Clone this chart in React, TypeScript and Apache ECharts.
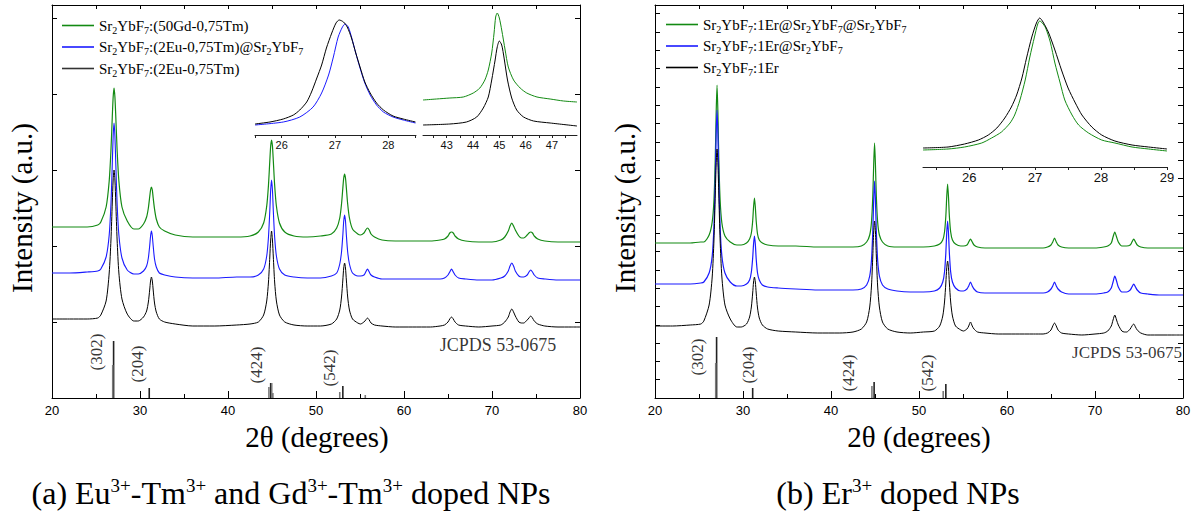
import React, { useEffect, useRef } from 'react';
import * as echarts from 'echarts';

// ---------- data ----------
const twoTheta = [
  20, 22, 24, 25.2, 25.55, 26.15, 26.5, 26.7, 26.85, 26.95,
  27.05, 27.15, 27.25, 27.4, 27.6, 27.95, 28.55, 29.3, 29.8, 30.4,
  30.75, 30.95, 31.1, 31.2, 31.3, 31.4, 31.5, 31.65, 31.85, 32.2,
  32.8, 34, 36, 38.5, 41, 42.5, 43.45, 44.05, 44.4, 44.6,
  44.75, 44.85, 44.95, 45.05, 45.15, 45.3, 45.5, 45.85, 46.45, 47.5,
  49, 50.5, 51.75, 52.35, 52.7, 52.9, 53.05, 53.15, 53.25, 53.35,
  53.45, 53.6, 53.8, 54.15, 54.75, 55.05, 55.45, 55.65, 55.85, 56.05,
  56.25, 56.65, 57.5, 59, 61, 63, 64.1, 64.6, 65.0, 65.2,
  65.4, 65.6, 65.8, 66.2, 67, 68.5, 70, 71, 71.45, 71.85,
  72.05, 72.25, 72.45, 72.65, 73.05, 73.35, 73.6, 74.0, 74.2, 74.4,
  74.6, 74.8, 75.2, 76, 77.5, 79, 80,
];

// panel (a)
const gdTm = [
  171, 171, 171, 173, 176, 191, 217, 248, 281, 301,
  310, 301, 281, 248, 217, 191, 177, 169, 169, 174,
  181, 190, 201, 208, 211, 208, 200, 189, 179, 171,
  167, 163, 161, 161, 161, 162, 166, 175, 192, 213,
  237, 252, 258, 252, 237, 213, 192, 175, 166, 162,
  161, 162, 164, 170, 180, 194, 210, 220, 224, 220,
  210, 194, 180, 169, 164, 163, 165, 168, 170, 168,
  164, 161, 158, 157, 157, 157, 158, 159, 162, 165,
  166, 165, 162, 159, 157, 156, 156, 158, 161, 167,
  172, 175, 172, 168, 162, 160, 160, 163, 165, 166,
  165, 162, 159, 157, 156, 156, 156,
];
const euTmCoreShell = [
  125, 125, 126, 127, 129, 141, 163, 194, 234, 262,
  275, 262, 234, 194, 163, 140, 128, 124, 124, 127,
  132, 140, 152, 162, 167, 162, 152, 139, 131, 125,
  123, 121, 120, 120, 121, 121, 123, 129, 142, 161,
  187, 208, 218, 208, 187, 161, 142, 129, 123, 121,
  120, 120, 122, 125, 134, 146, 163, 177, 183, 177,
  163, 146, 134, 125, 122, 122, 123, 126, 129, 126,
  123, 121, 119, 119, 119, 119, 119, 120, 123, 126,
  129, 126, 123, 120, 119, 118, 118, 120, 122, 127,
  132, 135, 132, 127, 122, 121, 121, 123, 126, 128,
  126, 123, 120, 119, 118, 118, 118,
];
const euTm = [
  79, 79, 79, 80, 83, 97, 125, 158, 195, 218,
  228, 218, 195, 158, 125, 99, 84, 77, 77, 81,
  87, 96, 108, 117, 121, 117, 108, 95, 86, 79,
  76, 74, 72, 72, 73, 74, 76, 83, 97, 116,
  141, 158, 167, 158, 141, 116, 97, 83, 76, 73,
  72, 72, 74, 79, 88, 101, 118, 130, 135, 130,
  118, 101, 88, 79, 75, 74, 76, 78, 80, 78,
  75, 73, 72, 71, 71, 71, 72, 73, 76, 79,
  81, 79, 76, 73, 72, 71, 72, 73, 76, 81,
  86, 89, 86, 82, 76, 75, 75, 78, 80, 82,
  80, 77, 74, 72, 71, 71, 71,
];

// panel (b)
const erTriple = [
  155, 155, 155, 156, 156, 163, 176, 198, 240, 285,
  313, 285, 240, 198, 175, 162, 156, 153, 153, 155,
  159, 165, 177, 191, 200, 191, 177, 164, 158, 155,
  153, 152, 152, 151, 151, 151, 152, 156, 163, 176,
  202, 233, 255, 233, 202, 176, 163, 156, 152, 151,
  151, 151, 152, 154, 158, 166, 182, 201, 214, 201,
  182, 166, 158, 154, 152, 152, 153, 156, 159, 156,
  153, 151, 150, 150, 150, 150, 150, 151, 153, 156,
  160, 156, 153, 151, 150, 150, 150, 151, 152, 155,
  161, 166, 161, 156, 152, 152, 152, 153, 156, 159,
  156, 153, 151, 150, 150, 150, 150,
];
const erDouble = [
  114, 114, 114, 115, 116, 125, 142, 172, 219, 264,
  288, 264, 219, 171, 142, 125, 116, 112, 112, 114,
  118, 126, 140, 154, 162, 154, 139, 125, 118, 113,
  111, 110, 109, 108, 108, 108, 109, 113, 122, 138,
  167, 198, 217, 198, 167, 138, 122, 113, 109, 107,
  106, 106, 107, 110, 116, 126, 145, 165, 177, 165,
  145, 126, 116, 110, 107, 107, 109, 112, 116, 112,
  109, 106, 105, 105, 105, 105, 105, 106, 109, 112,
  116, 112, 109, 106, 104, 104, 104, 105, 106, 110,
  116, 122, 117, 111, 106, 106, 106, 108, 111, 114,
  111, 108, 105, 104, 103, 103, 103,
];
const erSingle = [
  72, 72, 73, 74, 77, 93, 121, 158, 204, 234,
  249, 234, 204, 158, 121, 93, 79, 71, 71, 74,
  81, 91, 105, 116, 121, 116, 105, 90, 80, 73,
  69, 67, 66, 65, 65, 66, 69, 76, 91, 112,
  142, 166, 177, 166, 142, 112, 91, 76, 69, 66,
  65, 66, 67, 72, 82, 96, 115, 130, 137, 130,
  115, 96, 82, 72, 68, 67, 69, 72, 76, 72,
  69, 66, 65, 64, 64, 64, 64, 65, 68, 72,
  75, 72, 68, 65, 64, 63, 64, 65, 67, 72,
  78, 83, 78, 73, 67, 66, 66, 69, 72, 74,
  71, 68, 65, 63, 63, 63, 63,
];

// insets
const inset27Eu = [[25.5, 11], [25.78, 13], [26.03, 16], [26.22, 20], [26.34, 25], [26.47, 33], [26.56, 43], [26.66, 57], [26.75, 70], [26.84, 87], [26.94, 102], [27.02, 112], [27.08, 115], [27.16, 113], [27.23, 108], [27.31, 97], [27.39, 82], [27.47, 68], [27.56, 53], [27.66, 42], [27.78, 32], [27.91, 25], [28.09, 19], [28.28, 16], [28.51, 13]];
const inset27EuCore = [[25.5, 10], [26.03, 13], [26.34, 18], [26.59, 28], [26.75, 42], [26.88, 60], [26.97, 78], [27.06, 98], [27.14, 108], [27.19, 111], [27.25, 108], [27.31, 98], [27.39, 82], [27.47, 67], [27.56, 52], [27.66, 40], [27.78, 30], [27.91, 23], [28.09, 18], [28.28, 15], [28.51, 12]];
const inset45Gd = [[42.1, 35], [42.61, 36], [43.12, 37], [43.63, 38], [44.01, 42], [44.26, 47], [44.45, 55], [44.58, 65], [44.71, 82], [44.8, 102], [44.86, 118], [44.92, 122], [45.0, 117], [45.09, 105], [45.22, 85], [45.34, 68], [45.54, 55], [45.79, 47], [46.04, 42], [46.43, 38], [46.93, 36], [47.44, 34], [47.95, 33]];
const inset45Eu = [[42.1, 10], [43.12, 11], [43.75, 13], [44.14, 18], [44.39, 27], [44.58, 38], [44.71, 55], [44.84, 75], [44.92, 88], [45.0, 94], [45.09, 90], [45.18, 77], [45.31, 55], [45.47, 37], [45.66, 25], [45.92, 18], [46.3, 14], [46.93, 12], [47.95, 9]];
const insetErSingle = [[25.3, 19], [25.68, 20], [25.93, 23], [26.14, 27], [26.29, 32], [26.42, 39], [26.54, 49], [26.64, 60], [26.72, 72], [26.8, 89], [26.87, 109], [26.95, 130], [27.02, 144], [27.07, 149], [27.12, 145], [27.2, 135], [27.3, 117], [27.4, 97], [27.5, 79], [27.61, 64], [27.71, 52], [27.86, 40], [28.01, 32], [28.21, 26], [28.47, 22], [28.72, 20], [29.0, 18]];
const insetErTriple = [[25.3, 17], [25.68, 18], [25.93, 20], [26.19, 24], [26.34, 29], [26.49, 35], [26.62, 44], [26.69, 52], [26.77, 67], [26.85, 87], [26.92, 110], [26.99, 130], [27.04, 143], [27.07, 146], [27.11, 144], [27.16, 139], [27.23, 125], [27.3, 104], [27.38, 84], [27.45, 67], [27.56, 52], [27.66, 42], [27.81, 34], [28.01, 27], [28.21, 24], [28.47, 20], [28.72, 18], [29.0, 16]];

// JCPDS 53-0675 reference sticks [2theta, height]
const jcpdsMainA = [[27.0, 57], [31.05, 10], [44.85, 15], [53.05, 12]];
const jcpdsMinorA = [[26.9, 33], [44.65, 11], [44.97, 15], [45.1, 5], [52.7, 6], [55.6, 3]];
const jcpdsMainB = [[27.0, 61], [31.1, 10], [44.9, 16], [53.05, 14]];
const jcpdsMinorB = [[26.9, 35], [44.65, 12], [52.75, 7]];

const hklLabels = ['(302)', '(204)', '(424)', '(542)'];
const hklPosA = [[25.08, 46], [29.72, 34], [43.2, 33], [51.5, 30]];
const hklPosB = [[24.8, 41], [30.58, 33], [41.99, 25], [50.98, 25]];
const jcpdsPosA = [77.3, 53];
const jcpdsPosB = [79.9, 46];

const namesA = ['Sr2YbF7:(50Gd-0,75Tm)', 'Sr2YbF7:(2Eu-0,75Tm)@Sr2YbF7', 'Sr2YbF7:(2Eu-0,75Tm)'];
const namesB = ['Sr2YbF7:1Er@Sr2YbF7@Sr2YbF7', 'Sr2YbF7:1Er@Sr2YbF7', 'Sr2YbF7:1Er'];

// ---------- styling ----------
const SERIF = 'Liberation Serif';
const SANS = 'Liberation Sans';
const GREEN = '#138a13';
const BLUE = '#1a1aff';
const BLACK = '#000000';

const zip = (ys: number[]) => twoTheta.map((x, i) => [x, ys[i]]);
const subFmt = (n: string) => n.replace(/Sr2YbF7/g, 'Sr{s|2}YbF{s|7}');

const axLine = { show: true, onZero: false, lineStyle: { color: '#000', width: 1 } };

function mainX(gi: number) {
  return {
    type: 'value', gridIndex: gi, min: 20, max: 80, interval: 10, position: 'bottom',
    axisLine: axLine,
    axisTick: { show: true, inside: true, length: 7, lineStyle: { color: '#000' } },
    minorTick: { show: true, splitNumber: 2, length: 4, lineStyle: { color: '#000' } },
    axisLabel: { show: true, margin: 6, fontFamily: SANS, fontSize: 13, color: '#000' },
    splitLine: { show: false }, minorSplitLine: { show: false },
  };
}
function topX(gi: number) {
  return {
    type: 'value', gridIndex: gi, min: 20, max: 80, interval: 5, position: 'top',
    axisLine: axLine,
    axisTick: { show: true, inside: true, length: 4, lineStyle: { color: '#000' } },
    axisLabel: { show: false }, splitLine: { show: false },
  };
}
function mainY(gi: number, pos: string, interval: number) {
  return {
    type: 'value', gridIndex: gi, min: 0, max: 393, interval, position: pos,
    axisLine: axLine,
    axisTick: { show: true, inside: true, length: 5, lineStyle: { color: '#000' } },
    axisLabel: { show: false }, splitLine: { show: false },
  };
}
function insetX(gi: number, min: number, max: number, ticks: number[], labels: number[], fs: number) {
  return {
    type: 'value', gridIndex: gi, min, max, position: 'bottom',
    axisLine: { show: true, onZero: false, lineStyle: { color: '#222', width: 1 } },
    axisTick: { show: true, inside: false, length: 3, customValues: ticks, lineStyle: { color: '#222' } },
    axisLabel: { show: true, customValues: labels, margin: 4, fontFamily: SANS, fontSize: fs, color: '#111' },
    splitLine: { show: false },
  };
}
function insetY(gi: number, max: number) {
  return { type: 'value', gridIndex: gi, min: 0, max, show: false };
}
function line(name: string, data: any, xi: number, yi: number, color: string, width = 1) {
  return {
    type: 'line', name, data, xAxisIndex: xi, yAxisIndex: yi, showSymbol: false, symbol: 'none',
    smooth: 0.25, lineStyle: { color, width }, itemStyle: { color }, silent: true,
  };
}
function sticks(name: string, data: number[][], xi: number, yi: number, color: string) {
  return {
    type: 'bar', name, data, xAxisIndex: xi, yAxisIndex: yi, barWidth: 1.6, barGap: '-100%',
    itemStyle: { color }, silent: true,
  };
}
function hkl(name: string, pos: number[][], xi: number, yi: number) {
  return {
    type: 'scatter', name, xAxisIndex: xi, yAxisIndex: yi, symbolSize: 0, silent: true,
    data: pos.map((p, i) => ({ value: p, name: hklLabels[i] })),
    label: { show: true, position: 'inside', rotate: 90, formatter: '{b}', fontFamily: SERIF, fontSize: 17, color: '#000' },
  };
}
function jcpds(name: string, pos: number[], xi: number, yi: number, fs: number) {
  return {
    type: 'scatter', name, xAxisIndex: xi, yAxisIndex: yi, symbolSize: 0, silent: true,
    data: [{ value: pos, name: 'JCPDS 53-0675' }],
    label: { show: true, position: 'inside', align: 'right', formatter: '{b}', fontFamily: SERIF, fontSize: fs, color: '#000' },
  };
}
function legendAt(left: number, top: number, names: string[], colors: string[]) {
  return {
    left, top, orient: 'vertical', itemWidth: 32, itemHeight: 1.6, itemGap: 4, selectedMode: false,
    data: names.map((n, i) => ({ name: n, icon: 'rect', itemStyle: { color: colors[i] } })),
    formatter: subFmt,
    textStyle: {
      fontFamily: SERIF, fontSize: 15, color: '#000', padding: [0, 0, 0, 0],
      rich: { s: { fontFamily: SERIF, fontSize: 10, color: '#000', padding: [10, 0, 0, 0] } },
    },
  };
}

const serifText = (text: string, x: number, y: number, rot = 0) => ({
  type: 'text', x, y, rotation: rot,
  style: { text, fontFamily: SERIF, fontSize: 29, fill: '#000', align: 'center', verticalAlign: 'middle' },
});
const caption = (text: string, x: number) => ({
  type: 'text', x, y: 493,
  style: {
    text, fontFamily: SERIF, fontSize: 32, fill: '#000', align: 'center', verticalAlign: 'middle',
    rich: { p: { fontFamily: SERIF, fontSize: 19, padding: [0, 0, 16, 0] } },
  },
});

const option: any = {
  animation: false,
  backgroundColor: '#fff',
  textStyle: { fontFamily: SERIF },
  grid: [
    { left: 52, top: 5, width: 528, height: 393, outerBoundsMode: 'none' },
    { left: 655, top: 5, width: 528, height: 393, outerBoundsMode: 'none' },
    { left: 255, top: 10, width: 161, height: 125, outerBoundsMode: 'none' },
    { left: 423, top: 10, width: 154, height: 125, outerBoundsMode: 'none' },
    { left: 923, top: 10, width: 244, height: 157, outerBoundsMode: 'none' },
  ],
  xAxis: [
    mainX(0), topX(0), mainX(1), topX(1),
    insetX(2, 25.5, 28.52, [25.5, 26, 26.5, 27, 27.5, 28, 28.5], [26, 27, 28], 11),
    insetX(3, 42.1, 47.95, [42.5, 43, 43.5, 44, 44.5, 45, 45.5, 46, 46.5, 47, 47.5], [43, 44, 45, 46, 47], 11),
    insetX(4, 25.3, 29, [25.5, 26, 26.5, 27, 27.5, 28, 28.5, 29], [26, 27, 28, 29], 13),
  ],
  yAxis: [
    mainY(0, 'left', 76), mainY(0, 'right', 76), mainY(1, 'left', 18.3), mainY(1, 'right', 18.3),
    insetY(2, 125), insetY(3, 125), insetY(4, 157),
  ],
  legend: [
    legendAt(57, 13, namesA, [GREEN, BLUE, '#333']),
    legendAt(661, 12, namesB, [GREEN, BLUE, BLACK]),
  ],
  series: [
    line(namesA[0], zip(gdTm), 0, 0, GREEN, 1.2),
    line(namesA[1], zip(euTmCoreShell), 0, 0, BLUE, 1.1),
    line(namesA[2], zip(euTm), 0, 0, BLACK, 1),
    line(namesB[0], zip(erTriple), 2, 2, GREEN, 1.2),
    line(namesB[1], zip(erDouble), 2, 2, BLUE, 1.2),
    line(namesB[2], zip(erSingle), 2, 2, BLACK, 1),
    sticks('ref a', jcpdsMainA, 0, 0, '#222'),
    sticks('ref a minor', jcpdsMinorA, 0, 0, '#7a7a7a'),
    sticks('ref b', jcpdsMainB, 2, 2, '#222'),
    sticks('ref b minor', jcpdsMinorB, 2, 2, '#7a7a7a'),
    hkl('hkl a', hklPosA, 0, 0),
    hkl('hkl b', hklPosB, 2, 2),
    jcpds('jcpds a', jcpdsPosA, 0, 0, 18),
    jcpds('jcpds b', jcpdsPosB, 2, 2, 17),
    line('inset a 27 core', inset27EuCore, 4, 4, BLUE, 1),
    line('inset a 27', inset27Eu, 4, 4, BLACK, 1),
    line('inset a 45 Gd', inset45Gd, 5, 5, GREEN, 1),
    line('inset a 45', inset45Eu, 5, 5, BLACK, 1),
    line('inset b 27 triple', insetErTriple, 6, 6, GREEN, 1),
    line('inset b 27', insetErSingle, 6, 6, BLACK, 1),
  ],
  graphic: [
    serifText('Intensity (a.u.)', 22, 208, Math.PI / 2),
    serifText('Intensity (a.u.)', 625, 208, Math.PI / 2),
    serifText('2θ (degrees)', 317, 437),
    serifText('2θ (degrees)', 919, 437),
    caption('(a) Eu{p|3+}-Tm{p|3+} and Gd{p|3+}-Tm{p|3+} doped NPs', 291),
    caption('(b) Er{p|3+} doped NPs', 898),
  ],
};

export default function App() {
  const ref = useRef<HTMLDivElement>(null);
  useEffect(() => {
    const chart = echarts.init(ref.current!, null, { renderer: 'svg' });
    chart.setOption(option);
    return () => chart.dispose();
  }, []);
  return <div ref={ref} style={{ position: 'fixed', left: 0, top: 0, width: 1195, height: 512, background: '#fff' }} />;
}
